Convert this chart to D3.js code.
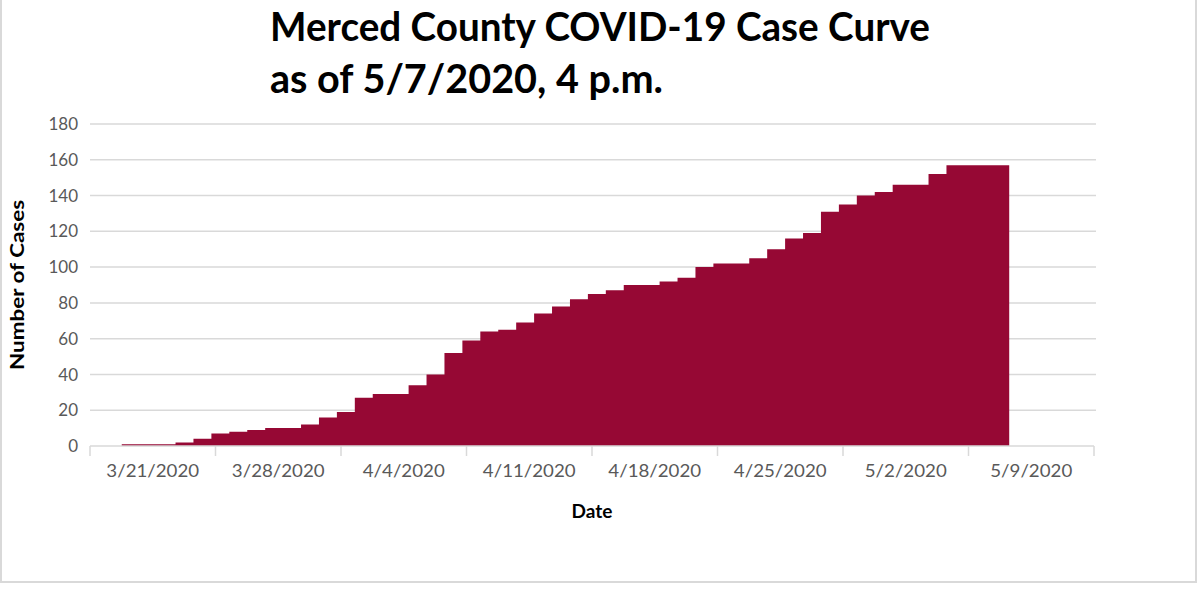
<!DOCTYPE html>
<html>
<head>
<meta charset="utf-8">
<script src="https://cdn.jsdelivr.net/npm/d3@7"></script>
<style>
  body { margin: 0; background: #fff; }
  svg { display: block; }
</style>
</head>
<body>
<script>
// daily cumulative case counts
const dates = [
  "3/20/2020","3/21/2020","3/22/2020","3/23/2020","3/24/2020","3/25/2020","3/26/2020",
  "3/27/2020","3/28/2020","3/29/2020","3/30/2020","3/31/2020","4/1/2020","4/2/2020",
  "4/3/2020","4/4/2020","4/5/2020","4/6/2020","4/7/2020","4/8/2020","4/9/2020",
  "4/10/2020","4/11/2020","4/12/2020","4/13/2020","4/14/2020","4/15/2020","4/16/2020",
  "4/17/2020","4/18/2020","4/19/2020","4/20/2020","4/21/2020","4/22/2020","4/23/2020",
  "4/24/2020","4/25/2020","4/26/2020","4/27/2020","4/28/2020","4/29/2020","4/30/2020",
  "5/1/2020","5/2/2020","5/3/2020","5/4/2020","5/5/2020","5/6/2020","5/7/2020"
]
const cases = [
  1, 1, 1, 2, 4, 7, 8,
  9, 10, 10, 12, 16, 19, 27,
  29, 29, 34, 40, 52, 59, 64,
  65, 69, 74, 78, 82, 85, 87,
  90, 90, 92, 94, 100, 102, 102,
  105, 110, 116, 119, 131, 135, 140,
  142, 146, 146, 152, 157, 157, 157
]
const tickLabels = ["3/21/2020","3/28/2020","4/4/2020","4/11/2020","4/18/2020","4/25/2020","5/2/2020","5/9/2020"]
const yTicks = [0, 20, 40, 60, 80, 100, 120, 140, 160, 180]

const titleLines = ["Merced County COVID-19 Case Curve", "as of 5/7/2020, 4 p.m."]

const W = 1200, H = 590
const fillColor = "#960834"
const gridColor = "#d9d9d9"
const tickColor = "#595959"
const font = "Lato, 'Open Sans', sans-serif"

const parse = d3.timeParse("%m/%d/%Y")
const HOUR = 3600 * 1000, DAY = 24 * HOUR

//setting up
const svg = d3.select('body').append('svg')
  .attr('width', W).attr('height', H)

// outer frame (left, bottom, right)
svg.append('path')
  .attr('d', `M1,0 V582 H1196 V0`)
  .attr('fill', 'none')
  .attr('stroke', gridColor)
  .attr('stroke-width', 2)

const x = d3.scaleTime()
  .domain([parse("3/18/2020"), parse("5/13/2020")])
  .range([90, 1094])
const y = d3.scaleLinear().domain([0, 180]).range([446, 124])

// gridlines
svg.append('g').selectAll('line').data(yTicks.filter(d => d > 0)).join('line')
  .attr('x1', 90).attr('x2', 1096)
  .attr('y1', d => y(d)).attr('y2', d => y(d))
  .attr('stroke', gridColor).attr('stroke-width', 1.5)

// y tick labels
svg.append('g').selectAll('text').data(yTicks).join('text')
  .attr('x', 78).attr('y', d => y(d))
  .attr('dy', '0.36em')
  .attr('text-anchor', 'end')
  .attr('font-family', font).attr('font-size', 17)
  .attr('fill', tickColor)
  .text(d => d)

// step area, each report counted from the evening before
const lead = 5.5 * HOUR
const pts = dates.map((d, i) => ({t: new Date(+parse(d) - lead), v: cases[i]}))
const last = pts[pts.length - 1]
pts.push({t: new Date(+last.t + 1.5 * DAY), v: last.v})

const area = d3.area()
  .x(d => x(d.t))
  .y0(y(0))
  .y1(d => y(d.v))
  .curve(d3.curveStepAfter)

svg.append('path')
  .datum(pts)
  .attr('d', area)
  .attr('fill', fillColor)

// x axis line and weekly ticks
const weekTicks = d3.timeDay.every(7).range(parse("3/18/2020"), new Date(+parse("5/13/2020") + HOUR))
svg.append('line')
  .attr('x1', 90).attr('x2', 1094)
  .attr('y1', y(0)).attr('y2', y(0))
  .attr('stroke', gridColor).attr('stroke-width', 1.5)
svg.append('g').selectAll('line').data(d3.range(0, 57, 7)).join('line')
  .attr('x1', d => x(new Date(+parse("3/18/2020") + d * DAY)))
  .attr('x2', d => x(new Date(+parse("3/18/2020") + d * DAY)))
  .attr('y1', y(0)).attr('y2', y(0) + 10)
  .attr('stroke', gridColor).attr('stroke-width', 1.5)

function stretch(sel, f) {
  sel.each(function() {
    const len = this.getComputedTextLength()
    d3.select(this).attr('textLength', len * f).attr('lengthAdjust', 'spacingAndGlyphs')
  })
}

// x labels centered on each labelled day
svg.append('g').selectAll('text').data(tickLabels).join('text')
  .attr('x', d => x(new Date(+parse(d) + 12 * HOUR)))
  .attr('y', 477)
  .attr('text-anchor', 'middle')
  .attr('font-family', font).attr('font-size', 17)
  .attr('fill', tickColor)
  .text(d => d)
  .call(stretch, 1.1)

// axis titles
svg.append('text')
  .attr('x', 592).attr('y', 518)
  .attr('text-anchor', 'middle')
  .attr('font-family', font).attr('font-size', 19).attr('font-weight', 'bold')
  .attr('fill', '#000')
  .text("Date")

svg.append('text')
  .attr('transform', 'translate(24,285) rotate(-90)')
  .attr('text-anchor', 'middle')
  .attr('font-family', font).attr('font-size', 19).attr('font-weight', 'bold')
  .attr('fill', '#000')
  .text("Number of Cases")
  .attr('textLength', 170).attr('lengthAdjust', 'spacingAndGlyphs')

// title
svg.append('g').selectAll('text').data(titleLines).join('text')
  .attr('x', 270)
  .attr('y', (d, i) => 41 + i * 52)
  .attr('font-family', font).attr('font-size', 41).attr('font-weight', 'bold')
  .attr('fill', '#000')
  .text(d => d)
  .attr('textLength', (d, i) => i == 0 ? 660 : 393)
  .attr('lengthAdjust', 'spacingAndGlyphs')
</script>
</body>
</html>
